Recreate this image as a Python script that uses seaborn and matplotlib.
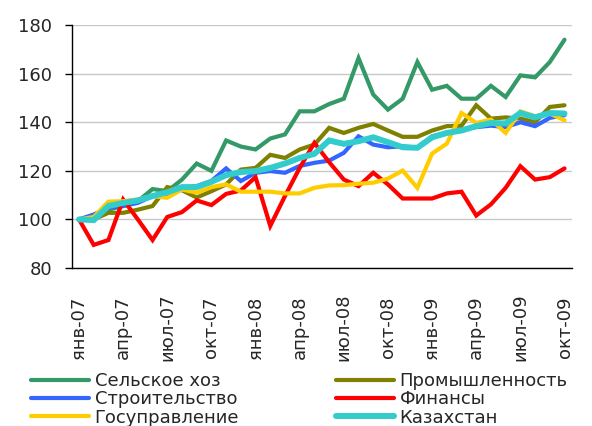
import numpy as np
import pandas as pd
import seaborn as sns
import matplotlib.pyplot as plt
from matplotlib.lines import Line2D

months = ["янв", "фев", "мар", "апр", "май", "июн", "июл", "авг", "сен", "окт", "ноя", "дек"]
periods = [f"{m}-{y:02d}" for y in (7, 8, 9) for m in months][:34]

agro = [100, 101, 104, 105.5, 107.5, 112.5, 111.6, 116.4, 123, 120, 132.5, 130,
        128.8, 133.3, 135, 144.5, 144.5, 147.5, 149.7, 166.4, 151.4, 145.2, 149.7, 164.8,
        153.4, 155, 149.7, 149.7, 155, 150.4, 159.3, 158.5, 164.8, 174]
industry = [100, 100, 102.7, 102.7, 104, 105.5, 113.3, 112, 109, 111.6, 114.4, 120.5,
            121.2, 126.6, 125.3, 128.8, 130.8, 137.7, 135.6, 137.7, 139.3, 136.6, 134, 134,
            136.6, 138.4, 138.6, 147, 141.5, 142, 141.5, 140, 146.3, 147]
construction = [100, 102, 104.8, 105.5, 106.8, 109.6, 110.3, 113, 113.7, 115.8, 121, 115.8,
                119.2, 119.9, 119.2, 122, 123.3, 124.2, 127.4, 134.2, 130.8, 129.7, 130.1, 129.5,
                134.2, 135.6, 137, 138, 138.6, 138, 140, 138.4, 141.8, 142.9]
finance = [100, 89.5, 91.5, 108.2, 100, 91.5, 101, 103, 107.8, 105.9, 110.5, 111.9,
           117.4, 97.3, 109.6, 121.2, 131.5, 123.6, 116.4, 113.7, 119.2, 114.4, 108.6, 108.6,
           108.6, 110.7, 111.4, 101.6, 106.2, 113, 121.9, 116.4, 117.4, 121]
government = [100, 101, 107.3, 107.5, 108.2, 109.6, 108.9, 112.3, 111, 113.3, 114.4, 111.4,
              111.4, 111.4, 110.7, 110.7, 113, 114, 114.1, 114.7, 115.1, 116.8, 120.1, 113,
              127.1, 131.2, 143.8, 139.7, 141.1, 135.6, 144.5, 142.5, 143.6, 140.8]
kazakhstan = [100, 99.7, 105.5, 106.8, 107.8, 109.6, 111.2, 113.3, 113.3, 115.5, 118.2, 119.5,
              119.9, 121.2, 123, 125.3, 127, 132.5, 131.1, 132.2, 133.8, 131.8, 129.7, 129.5,
              133.8, 135.6, 136.6, 138.4, 139.7, 139.5, 143.8, 142, 143.8, 143.6]

series = [
    ("Сельское хоз", agro, "#339966", 3.0),
    ("Промышленность", industry, "#808000", 3.0),
    ("Строительство", construction, "#3366FF", 3.0),
    ("Финансы", finance, "#FF0000", 3.0),
    ("Госуправление", government, "#FFCC00", 3.0),
    ("Казахстан", kazakhstan, "#33CCCC", 4.3),
]

sns.set_style("white")
plt.rcParams["font.family"] = ["DejaVu Sans"]

fig = plt.figure(figsize=(5.92, 4.26), dpi=100)
ax = fig.add_axes([0.121, 0.371, 0.845, 0.570])

x = np.arange(len(periods))
handles = {}
for name, vals, color, lw in series:
    df = pd.DataFrame({"x": x, "y": vals})
    sns.lineplot(data=df, x="x", y="y", color=color, linewidth=lw, ax=ax,
                 solid_joinstyle="miter")
    handles[name] = Line2D([], [], color=color, linewidth=lw, solid_capstyle="round")

ax.set_xlim(-0.5, 33.5)
ax.set_ylim(80, 180)
ax.set_yticks(range(80, 181, 20))
ax.yaxis.grid(True, color="#c8c8c8", linewidth=1)
ax.set_axisbelow(True)
for s in ("top", "right"):
    ax.spines[s].set_visible(False)
for s in ("left", "bottom"):
    ax.spines[s].set_color("black")
    ax.spines[s].set_linewidth(1)

# labels centred on the categories, tick marks between them
lab_pos = x[::3]
ax.set_xticks(lab_pos, [periods[i] for i in lab_pos], rotation=90)
ax.set_xticks(np.arange(-0.5, 33, 3), minor=True)
ax.tick_params(axis="x", which="major", length=0, pad=43, labelsize=13)
ax.tick_params(axis="x", which="minor", length=5, width=1, color="black")
ax.tick_params(axis="y", length=5, width=1, color="black", left=True, pad=9, labelsize=13)
for lab in ax.get_xticklabels():
    lab.set_verticalalignment("center")
ax.set_xlabel("")
ax.set_ylabel("")

leg_kw = dict(fontsize=13, frameon=False, handlelength=3.2, handletextpad=0.3,
              labelspacing=0.02, borderpad=0, borderaxespad=0, loc="upper left")
col1 = ["Сельское хоз", "Строительство", "Госуправление"]
col2 = ["Промышленность", "Финансы", "Казахстан"]
fig.legend([handles[n] for n in col1], col1, bbox_to_anchor=(0.053, 0.127), **leg_kw)
fig.legend([handles[n] for n in col2], col2, bbox_to_anchor=(0.568, 0.127), **leg_kw)

fig.savefig("out.png", dpi=100)
plt.close(fig)
